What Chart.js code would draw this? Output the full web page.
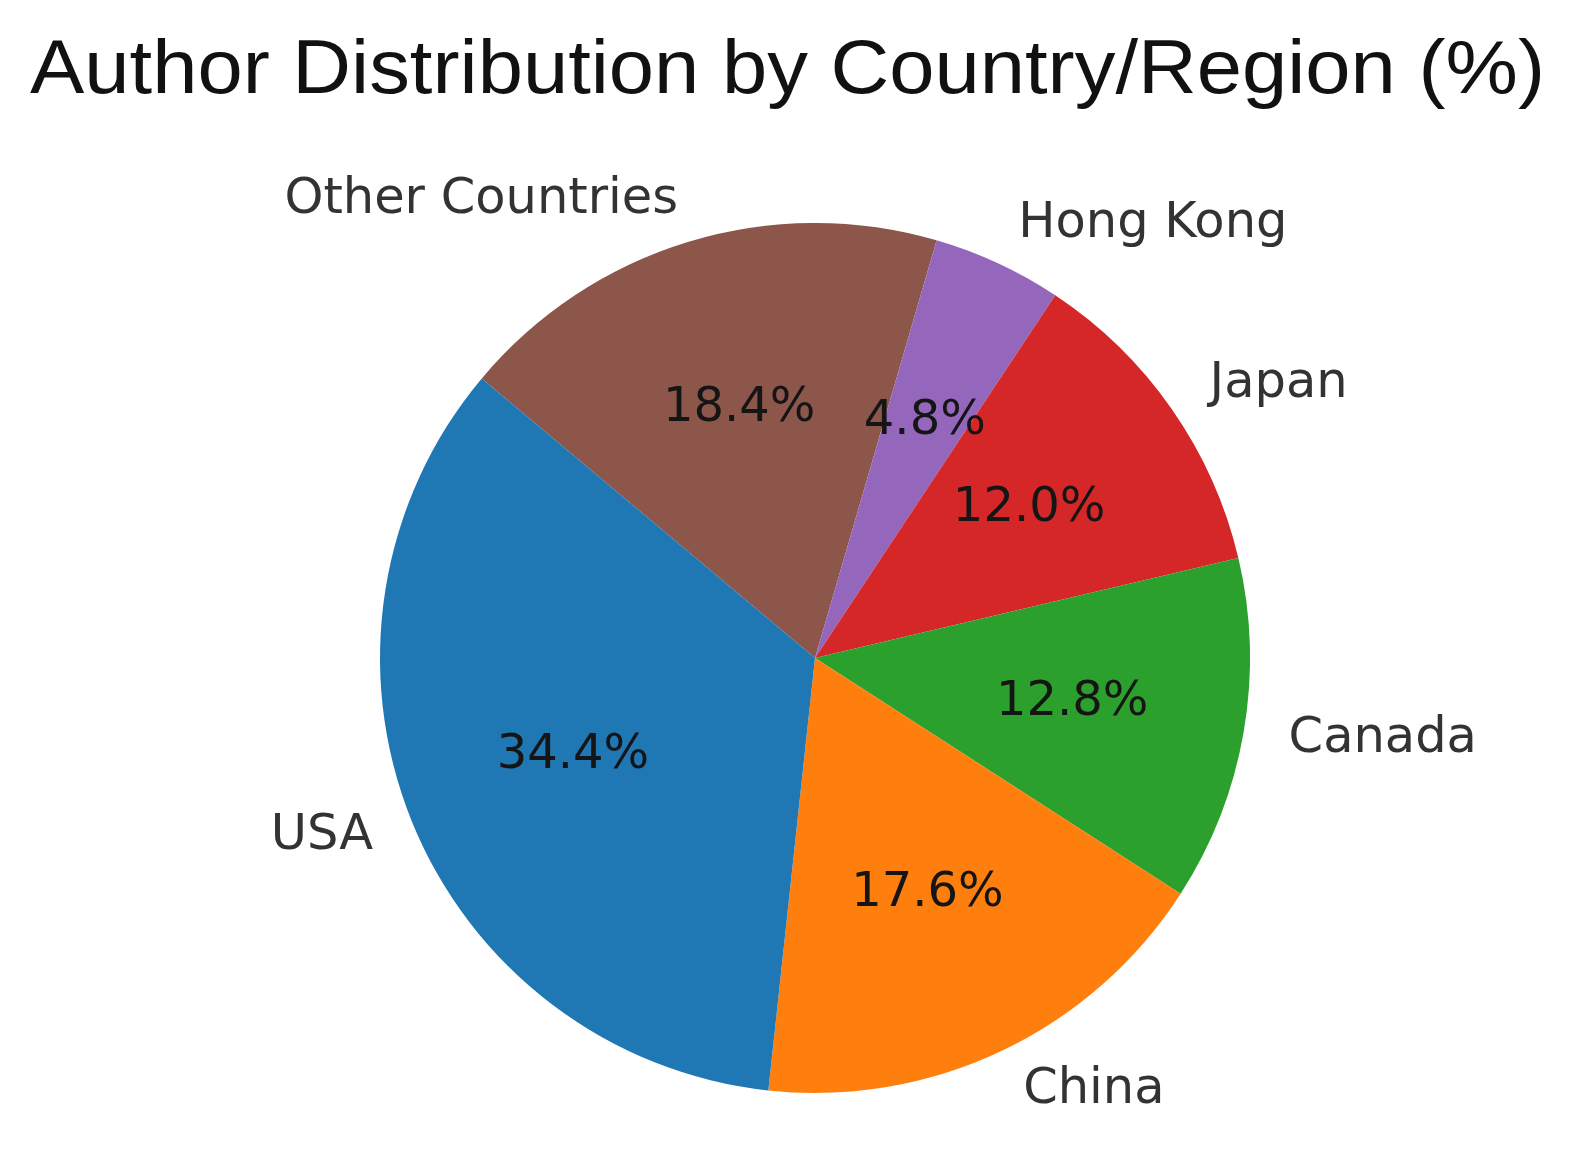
<!DOCTYPE html>
<html>
<head>
<meta charset="utf-8">
<script src="https://cdn.jsdelivr.net/npm/chart.js@4.4.1/dist/chart.umd.min.js"></script>
<style>
html,body{margin:0;padding:0;background:#fff;}
#wrap{width:1571px;height:1159px;position:relative;}
</style>
</head>
<body>
<div id="wrap"><canvas id="c" width="1571" height="1159"></canvas></div>
<script>
// Data (matplotlib order, counter-clockwise from start angle)
const categories = ["USA", "China", "Canada", "Japan", "Hong Kong", "Other Countries"];
const shares = [34.4, 17.6, 12.8, 12.0, 4.8, 18.4];
const colors = ["#1f77b4", "#ff7f0e", "#2ca02c", "#d62728", "#9467bd", "#8c564b"];
const titleText = "Author Distribution by Country/Region (%)";

// Chart.js draws clockwise, so reverse order to mimic counter-clockwise layout
const order = categories.map((_, i) => i).reverse();
const cjsLabels = order.map(i => categories[i]);
const cjsData = order.map(i => shares[i]);
const cjsColors = order.map(i => colors[i]);

const titlePlugin = {
  id: 'bigTitle',
  afterDraw(chart) {
    const ctx = chart.ctx;
    ctx.save();
    ctx.font = '76px "Liberation Sans", Arial, sans-serif';
    ctx.fillStyle = '#111111';
    ctx.textBaseline = 'alphabetic';
    ctx.textAlign = 'left';
    const left = 30, right = 1545;
    const w = ctx.measureText(titleText).width;
    const sx = (right - left) / w;
    ctx.translate(left, 93);
    ctx.scale(sx, 1);
    ctx.fillText(titleText, 0, 0);
    ctx.restore();
  }
};

const labelPlugin = {
  id: 'pieLabels',
  afterDatasetsDraw(chart) {
    const ctx = chart.ctx;
    const meta = chart.getDatasetMeta(0);
    const data = chart.data.datasets[0].data;
    const total = data.reduce((a, b) => a + b, 0);
    meta.data.forEach((arc, i) => {
      const p = arc.getProps(['x', 'y', 'startAngle', 'endAngle', 'outerRadius'], true);
      const mid = (p.startAngle + p.endAngle) / 2;
      const cx = Math.cos(mid), cy = Math.sin(mid);
      ctx.save();
      ctx.font = '49.5px "DejaVu Sans"';
      ctx.fillStyle = '#333333';
      ctx.textBaseline = 'middle';
      ctx.textAlign = cx > 0 ? 'left' : 'right';
      ctx.fillText(chart.data.labels[i], p.x + 1.1 * p.outerRadius * cx + 2, p.y + 1.1 * p.outerRadius * cy);
      ctx.font = '48px "DejaVu Sans"';
      ctx.fillStyle = '#151515';
      ctx.textAlign = 'center';
      const pct = (data[i] / total * 100).toFixed(1) + '%';
      ctx.fillText(pct, p.x + 0.6 * p.outerRadius * cx, p.y + 0.6 * p.outerRadius * cy);
      ctx.restore();
    });
  }
};

new Chart(document.getElementById('c'), {
  type: 'pie',
  data: {
    labels: cjsLabels,
    datasets: [{
      data: cjsData,
      backgroundColor: cjsColors,
      borderWidth: 0
    }]
  },
  options: {
    responsive: false,
    animation: false,
    rotation: -50,
    layout: { padding: { top: 223, bottom: 66, left: 380, right: 321 } },
    plugins: {
      legend: { display: false },
      tooltip: { enabled: false },
      title: { display: false }
    }
  },
  plugins: [labelPlugin, titlePlugin]
});
</script>
</body>
</html>
